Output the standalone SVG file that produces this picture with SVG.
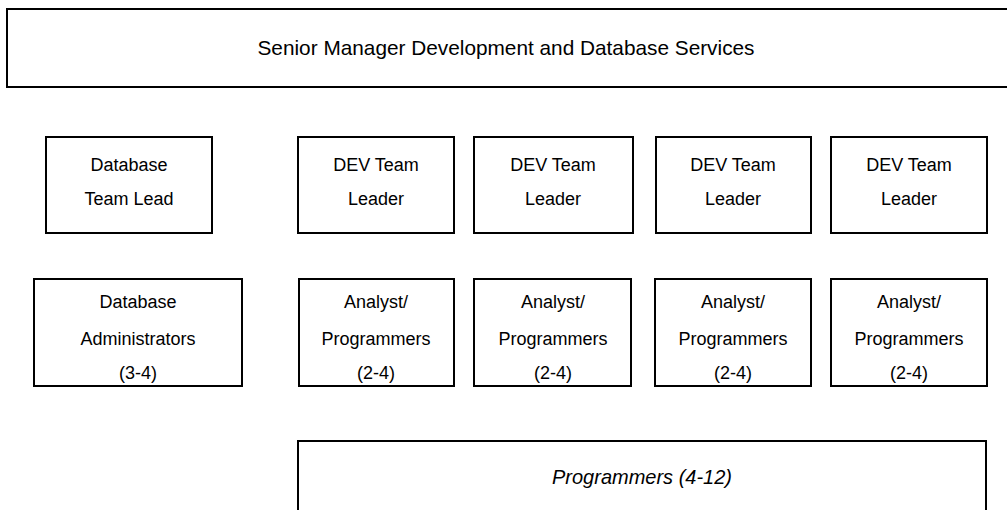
<svg xmlns="http://www.w3.org/2000/svg" width="1007" height="510" viewBox="0 0 1007 510">
<style>
rect{fill:#fff;stroke:#000;stroke-width:2}
text{font-family:"Liberation Sans",Arial,sans-serif;font-size:18px;fill:#000;text-anchor:middle}
.big{font-size:21px}
.it{font-style:italic;font-size:21px}
</style>
<rect x="0" y="0" width="1007" height="510" style="fill:#fff;stroke:none"/>
<g id="senior"><rect x="7" y="9" width="1010" height="78"/><text class="big" x="506" y="55" textLength="497" lengthAdjust="spacingAndGlyphs">Senior Manager Development and Database Services</text></g>
<g id="dblead"><rect x="46" y="137" width="166" height="96"/><text x="129" y="171">Database</text><text x="129" y="205">Team Lead</text></g>
<g id="dev1"><rect x="298" y="137" width="156" height="96"/><text x="376" y="171">DEV Team</text><text x="376" y="205">Leader</text></g>
<g id="dev2"><rect x="474" y="137" width="159" height="96"/><text x="553" y="171">DEV Team</text><text x="553" y="205">Leader</text></g>
<g id="dev3"><rect x="656" y="137" width="155" height="96"/><text x="733" y="171">DEV Team</text><text x="733" y="205">Leader</text></g>
<g id="dev4"><rect x="831" y="137" width="156" height="96"/><text x="909" y="171">DEV Team</text><text x="909" y="205">Leader</text></g>
<g id="dbadmin"><rect x="34" y="279" width="208" height="107"/><text x="138" y="308">Database</text><text x="138" y="345">Administrators</text><text x="138" y="379">(3-4)</text></g>
<g id="ap1"><rect x="299" y="279" width="155" height="107"/><text x="376" y="308">Analyst/</text><text x="376" y="345">Programmers</text><text x="376" y="379">(2-4)</text></g>
<g id="ap2"><rect x="474" y="279" width="157" height="107"/><text x="553" y="308">Analyst/</text><text x="553" y="345">Programmers</text><text x="553" y="379">(2-4)</text></g>
<g id="ap3"><rect x="655" y="279" width="156" height="107"/><text x="733" y="308">Analyst/</text><text x="733" y="345">Programmers</text><text x="733" y="379">(2-4)</text></g>
<g id="ap4"><rect x="831" y="279" width="156" height="107"/><text x="909" y="308">Analyst/</text><text x="909" y="345">Programmers</text><text x="909" y="379">(2-4)</text></g>
<g id="programmers"><rect x="298" y="441" width="688" height="80"/><text class="it" x="642" y="484" textLength="180" lengthAdjust="spacingAndGlyphs">Programmers (4-12)</text></g>
<g id="connectors"></g>
</svg>
